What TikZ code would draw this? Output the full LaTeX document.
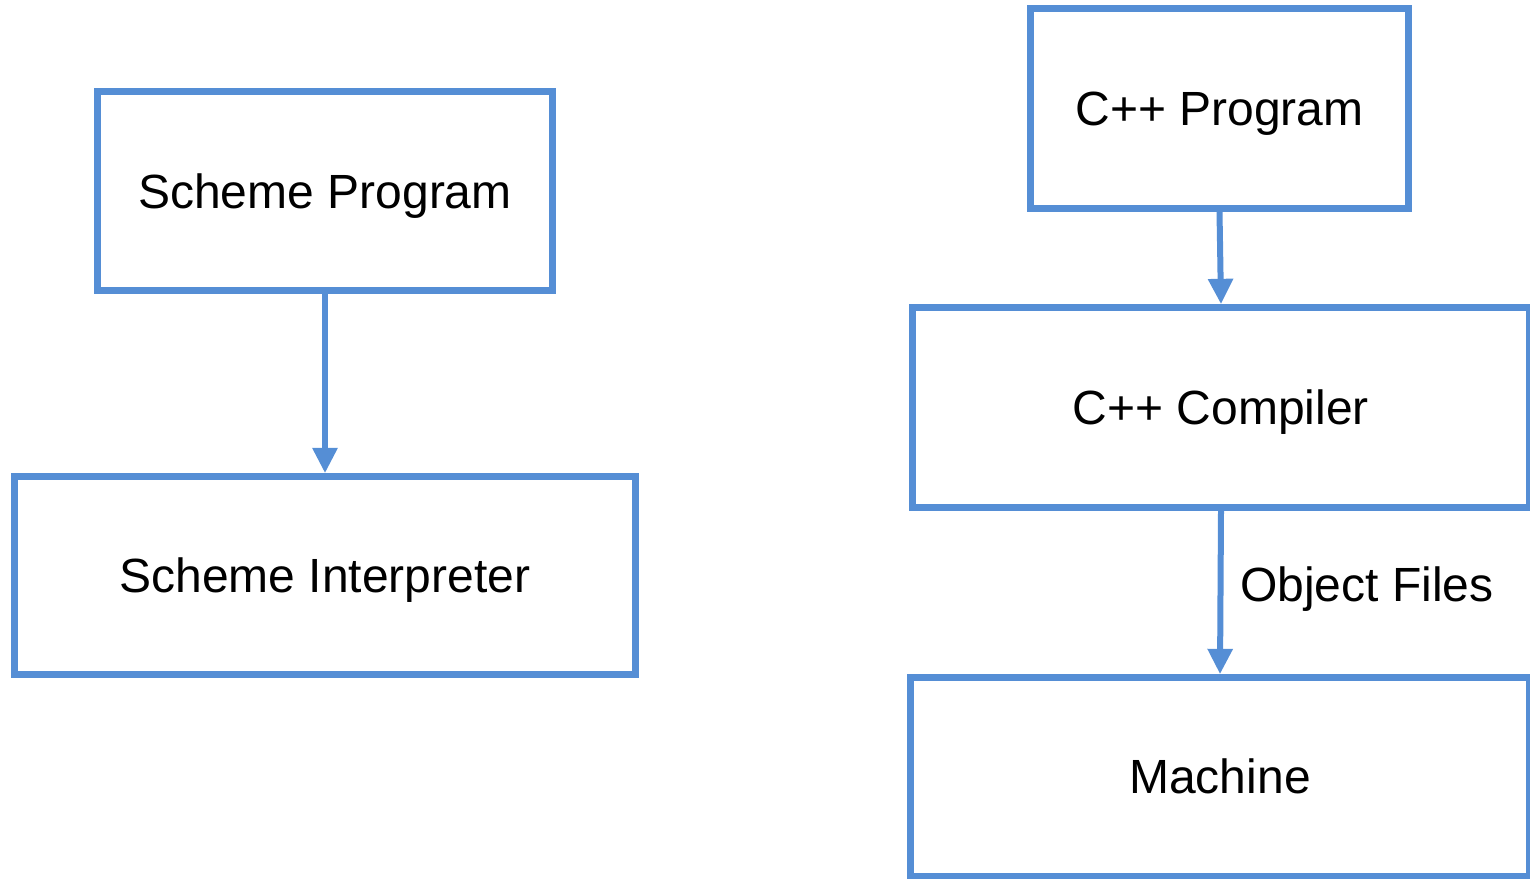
\documentclass[tikz,border=0pt]{standalone}
\usepackage{fontspec}
\setmainfont{Liberation Sans}
\usetikzlibrary{arrows.meta}
\definecolor{flowblue}{RGB}{85,142,213}
\begin{document}
\begin{tikzpicture}[
  x=0.75pt, y=-0.75pt,
  box/.style={draw=flowblue, line width=5pt, rectangle, inner sep=0pt,
    font=\fontsize{36}{40}\selectfont, text=black,
    text height=25.8pt, text depth=0pt},
  flow/.style={draw=flowblue, line width=4.5pt,
    -{Triangle[length=19pt,width=18pt]}},
  lbl/.style={inner sep=0pt, font=\fontsize{36}{40}\selectfont, text=black,
    text height=25.8pt, text depth=0pt}
]
\useasboundingbox (0,0) rectangle (1530,878);

% Scheme: interpreted path
\node[box, minimum width=341.25pt, minimum height=149.25pt] (sp) at (325,191) {Scheme Program};
\node[box, minimum width=465.75pt, minimum height=148.5pt] (si) at (325,575.5) {Scheme Interpreter};

% C++: compiled path
\node[box, minimum width=283.5pt, minimum height=150pt] (cp) at (1219.5,108.5) {C++ Program};
\node[box, minimum width=462.75pt, minimum height=150pt] (cc) at (1221,407.5) {C++ Compiler};
\node[box, minimum width=464.25pt, minimum height=148.9pt] (m) at (1220,776.75) {Machine};

\draw[flow] (sp.south) -- (si.north);
\draw[flow] (cp.south) -- (cc.north);
\draw[flow] (cc.south) -- node[lbl, right=12.5pt, pos=0.45] {Object Files} (m.north);
\end{tikzpicture}
\end{document}
